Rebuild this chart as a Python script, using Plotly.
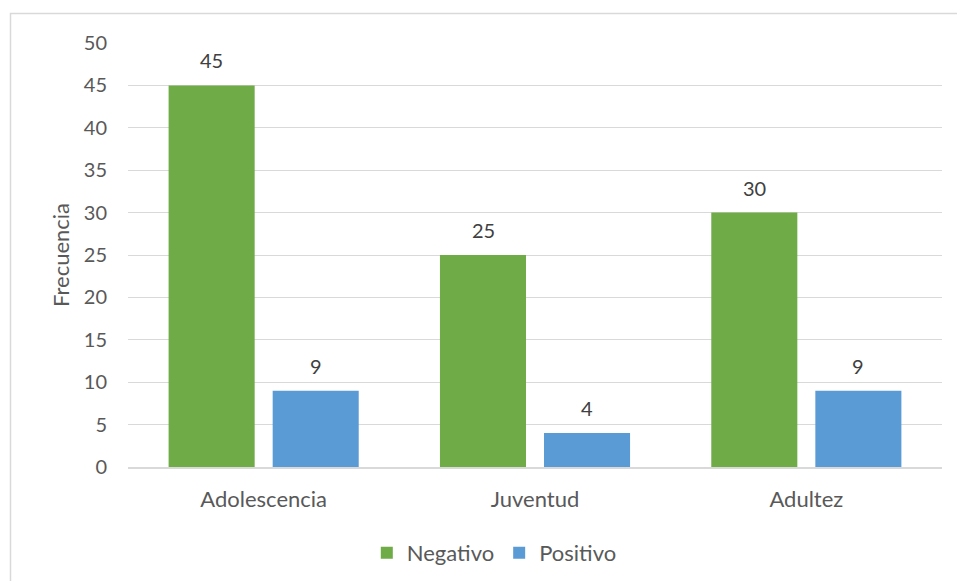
import plotly.graph_objects as go

categories = ["Adolescencia", "Juventud", "Adultez"]
negativo = [45, 25, 30]
positivo = [9, 4, 9]
series_names = ["Negativo", "Positivo"]
y_ticks = [0, 5, 10, 15, 20, 25, 30, 35, 40, 45, 50]

GREEN = "#6fab46"
BLUE = "#5b9bd5"
FONT = "Lato"

fig = go.Figure()
fig.add_trace(go.Bar(name=series_names[0], x=categories, y=negativo,
                     marker=dict(color=GREEN, line=dict(width=0))))
fig.add_trace(go.Bar(name=series_names[1], x=categories, y=positivo,
                     marker=dict(color=BLUE, line=dict(width=0))))

annotations = []
for vals, shift in ((negativo, -52), (positivo, 52)):
    for c, v in zip(categories, vals):
        annotations.append(dict(x=c, y=v, xref="x", yref="y", text=str(v),
                                showarrow=False, xshift=shift, yshift=25,
                                yanchor="middle",
                                font=dict(family=FONT, size=20, color="#404040")))

fig.update_layout(
    width=957, height=581,
    margin=dict(l=128, r=15, t=43, b=114, autoexpand=False),
    paper_bgcolor="white", plot_bgcolor="white",
    barmode="group", bargap=0.233, bargroupgap=0.173,
    font=dict(family=FONT, size=22, color="#595959"),
    showlegend=True,
    legend=dict(orientation="h", x=0.45, xanchor="center", y=-0.203, yanchor="middle",
                font=dict(family=FONT, size=22, color="#595959"),
                itemwidth=30, traceorder="normal"),
    annotations=annotations,
    shapes=[dict(type="rect", xref="paper", yref="paper",
                 x0=(10.5 - 128) / 814, x1=1.2, y0=-0.5, y1=(467 - 13.5) / 424,
                 line=dict(color="#d9d9d9", width=1.5), fillcolor="rgba(0,0,0,0)",
                 layer="below")],
)
fig.update_yaxes(range=[0, 50], tickvals=y_ticks, showgrid=True, gridcolor="#d9d9d9",
                 gridwidth=1, zeroline=False, showline=False, ticks="",
                 ticklabelstandoff=20,
                 tickfont=dict(family=FONT, size=20, color="#595959"),
                 title=dict(text="Frecuencia", standoff=8,
                            font=dict(family=FONT, size=22, color="#595959")))
fig.update_xaxes(showline=True, linecolor="#d9d9d9", linewidth=1.5, ticks="",
                 ticklabelstandoff=12,
                 tickfont=dict(family=FONT, size=22, color="#595959"))

fig.write_html("out.html")
